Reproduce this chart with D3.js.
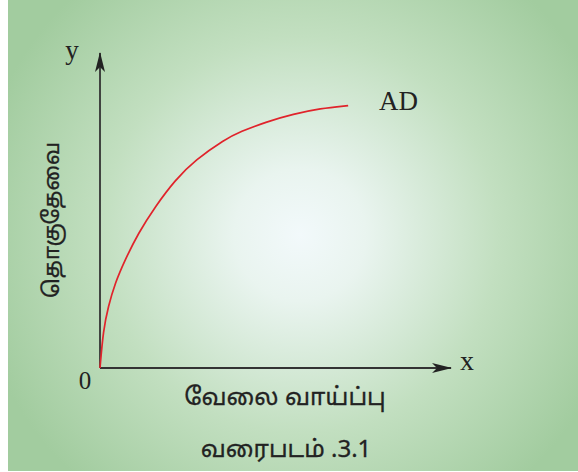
<!DOCTYPE html>
<html>
<head>
<meta charset="utf-8">
<script src="https://cdn.jsdelivr.net/npm/d3@7"></script>
<style>
  html, body { margin: 0; padding: 0; background: #fff; }
  svg { display: block; }
</style>
</head>
<body>
<div id="chart"></div>
<script>
// AD curve (x: employment, y: aggregate demand, 0..100)
var empX = [0, 0.94, 2.36, 4.27, 7.12, 10.9, 15.7, 21.4, 27.1, 35.6, 39.9, 47.5, 55.1, 62.7, 70.7];
var demandY = [0, 12.1, 19.5, 26.9, 34.3, 42.8, 51.2, 59.7, 66.0, 72.6, 75.0, 78.2, 80.6, 82.4, 83.3];
var curveName = "AD";
var xLabel = "வேலை வாய்ப்பு";
var yLabel = "தொகுதேவை";
var caption = "வரைபடம் .3.1";

var width = 578, height = 472;
var svg = d3.select('#chart').append('svg')
  .attr('width', width)
  .attr('height', height);

var defs = svg.append('defs');
var grad = defs.append('radialGradient')
  .attr('id', 'bg')
  .attr('gradientUnits', 'userSpaceOnUse')
  .attr('cx', 300).attr('cy', 235).attr('r', 330);
grad.append('stop').attr('offset', '0%').attr('stop-color', '#f2f9fb');
grad.append('stop').attr('offset', '20%').attr('stop-color', '#e9f4ef');
grad.append('stop').attr('offset', '60%').attr('stop-color', '#c2dfc0');
grad.append('stop').attr('offset', '100%').attr('stop-color', '#a2cc9f');

defs.append('marker')
  .attr('id', 'arrow')
  .attr('viewBox', '0 0 20 10')
  .attr('refX', 19).attr('refY', 5)
  .attr('markerWidth', 20).attr('markerHeight', 10)
  .attr('markerUnits', 'userSpaceOnUse')
  .attr('orient', 'auto')
  .append('path')
  .attr('d', 'M0,0 L20,5 L0,10 L5,5 Z')
  .style('fill', '#222');

svg.append('rect')
  .attr('x', 8).attr('y', 0)
  .attr('width', width - 8).attr('height', height - 1)
  .style('fill', 'url(#bg)');

var x = d3.scaleLinear().domain([0, 100]).range([100, 451]);
var y = d3.scaleLinear().domain([0, 100]).range([368, 53]);

// axes
svg.append('line')
  .attr('x1', x(0)).attr('y1', y(0))
  .attr('x2', x(100)).attr('y2', y(0))
  .attr('marker-end', 'url(#arrow)')
  .style('stroke', '#333').style('stroke-width', 1.8);
svg.append('line')
  .attr('x1', x(0)).attr('y1', y(0))
  .attr('x2', x(0)).attr('y2', y(100))
  .attr('marker-end', 'url(#arrow)')
  .style('stroke', '#333').style('stroke-width', 1.8);

var pts = empX.map(function(d, i){ return [d, demandY[i]]; });
var line = d3.line()
  .x(function(d){ return x(d[0]); })
  .y(function(d){ return y(d[1]); })
  .curve(d3.curveBasis);

svg.append('path')
  .datum(pts)
  .attr('d', line)
  .style('fill', 'none')
  .style('stroke', '#e0232b')
  .style('stroke-width', 1.7);

var serif = '"Liberation Serif", "DejaVu Serif", serif';
var tamil = '"Noto Sans Tamil", "Noto Sans", "Lato", sans-serif';

svg.append('text')
  .attr('x', 379).attr('y', 110)
  .style('font-family', serif).style('font-size', '27px').style('fill', '#222')
  .text(curveName);
svg.append('text')
  .attr('x', 72).attr('y', 59)
  .attr('text-anchor', 'middle')
  .style('font-family', serif).style('font-size', '27px').style('fill', '#222')
  .text('y');
svg.append('text')
  .attr('x', 467).attr('y', 370)
  .attr('text-anchor', 'middle')
  .style('font-family', serif).style('font-size', '28px').style('fill', '#222')
  .text('x');
svg.append('text')
  .attr('x', 85).attr('y', 389)
  .attr('text-anchor', 'middle')
  .style('font-family', serif).style('font-size', '25px').style('fill', '#222')
  .text('0');

svg.append('text')
  .attr('x', 285).attr('y', 405)
  .attr('text-anchor', 'middle')
  .style('font-family', tamil).style('font-size', '24px').style('fill', '#222')
  .style('stroke', '#222').style('stroke-width', 0.3)
  .text(xLabel);
svg.append('text')
  .attr('x', 286).attr('y', 457)
  .attr('text-anchor', 'middle')
  .style('font-family', tamil).style('font-size', '24px').style('fill', '#222')
  .style('stroke', '#222').style('stroke-width', 0.3)
  .text(caption);

// y label: rotated, then centred on its measured box
var yl = svg.append('text')
  .attr('text-anchor', 'middle')
  .style('font-family', tamil).style('font-size', '22px').style('fill', '#222')
  .style('stroke', '#222').style('stroke-width', 0.3)
  .text(yLabel);
var bb = yl.node().getBBox();
var cxLocal = bb.x + bb.width / 2, cyLocal = bb.y + bb.height / 2;
// after rotate(-90): local (u,v) -> (v, -u)
yl.attr('transform', 'translate(' + (53 - cyLocal) + ',' + (220 + cxLocal) + ') rotate(-90)');
</script>
</body>
</html>
